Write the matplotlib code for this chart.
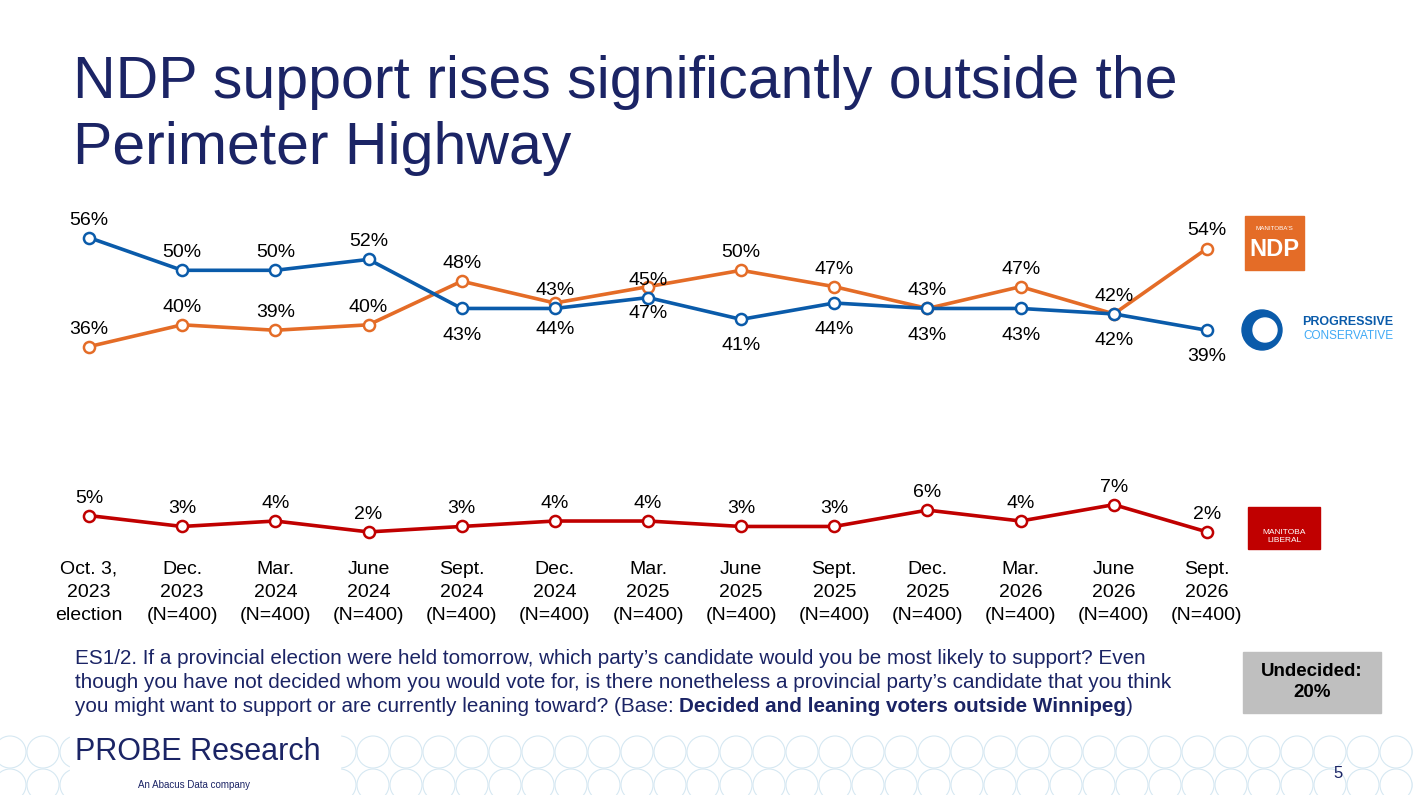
import matplotlib
matplotlib.use("Agg")
import matplotlib.pyplot as plt
from matplotlib.patches import Rectangle, Circle

categories = ["Oct. 3,\n2023\nelection", "Dec.\n2023\n(N=400)", "Mar.\n2024\n(N=400)", "June\n2024\n(N=400)",
              "Sept.\n2024\n(N=400)", "Dec.\n2024\n(N=400)", "Mar.\n2025\n(N=400)", "June\n2025\n(N=400)",
              "Sept.\n2025\n(N=400)", "Dec.\n2025\n(N=400)", "Mar.\n2026\n(N=400)", "June\n2026\n(N=400)",
              "Sept.\n2026\n(N=400)"]
pc = [56, 50, 50, 52, 43, 43, 45, 41, 44, 43, 43, 42, 39]
ndp = [36, 40, 39, 40, 48, 44, 47, 50, 47, 43, 47, 42, 54]
lib = [5, 3, 4, 2, 3, 4, 4, 3, 3, 6, 4, 7, 2]
pc_above = [1, 1, 1, 1, 0, 1, 1, 0, 0, 0, 0, 0, 0]
ndp_above = [1, 1, 1, 1, 1, 0, 0, 1, 1, 1, 1, 1, 1]

W, H = 1413, 795
fig = plt.figure(figsize=(W/100, H/100), dpi=100)
FF = "Liberation Sans"
navy = "#1B2465"
blue = "#0A5BAA"
orange = "#E46C27"
red = "#C00000"

bg = fig.add_axes([0, 0, 1, 1], zorder=-5)
bg.set_xlim(0, W); bg.set_ylim(H, 0); bg.axis("off")
for cx in range(10, W + 30, 33):
    for cy in (752, 785):
        bg.add_patch(Circle((cx, cy), 16, fill=False, ec="#D6E8F2", lw=0.8))
bg.add_patch(Rectangle((70, 725), 270, 70, color="white"))

ax = fig.add_axes([89/W, 1 - 545/H, (1207-89)/W, 345/H])
ax.set_xlim(0, 12)
ax.set_ylim(-0.4, 62.9)
ax.axis("off")
x = list(range(len(categories)))
for vals, col, above in ((ndp, orange, ndp_above), (pc, blue, pc_above), (lib, red, [1]*13)):
    ax.plot(x, vals, color=col, lw=2.6, marker="o", ms=8, mfc="white", mec=col, mew=1.8, clip_on=False)
    for xi, v, a in zip(x, vals, above):
        ax.annotate(f"{v}%", (xi, v), xytext=(0, 6.5 if a else -13), textcoords="offset points",
                    ha="center", va="bottom" if a else "top", fontsize=14, family=FF)
for xi, c in zip(x, categories):
    ax.text(xi, -3.3, c, ha="center", va="top", fontsize=14, family=FF, linespacing=1.45)

bg.text(73, 82, "NDP support rises significantly outside the", ha="left", va="center",
        fontsize=42.5, color=navy, family=FF)
bg.text(73, 149, "Perimeter Highway", ha="left", va="center", fontsize=42.5, color=navy, family=FF)

bg.add_patch(Rectangle((1245, 216), 59, 54, color=orange))
bg.text(1274, 228, "MANITOBA'S", color="white", fontsize=4.5, ha="center", va="center", family=FF)
bg.text(1274, 249, "NDP", color="white", fontsize=17, ha="center", va="center", weight="bold", family=FF)
bg.add_patch(Circle((1262, 330), 20, color=blue))
bg.add_patch(Circle((1265, 330), 12, color="white"))
bg.text(1393, 322, "PROGRESSIVE", color=blue, fontsize=9, ha="right", va="center", weight="bold", family=FF)
bg.text(1393, 336, "CONSERVATIVE", color="#3FA9F5", fontsize=8.5, ha="right", va="center", family=FF)
bg.add_patch(Rectangle((1248, 507), 72, 42, color=red))
bg.text(1284, 536, "MANITOBA\nLIBERAL", color="white", fontsize=6, ha="center", va="center", family=FF)

qs = 14.9
bg.text(75, 659, "ES1/2. If a provincial election were held tomorrow, which party\u2019s candidate would you be most likely to support? Even",
        ha="left", va="center", fontsize=qs, color=navy, family=FF)
bg.text(75, 683, "though you have not decided whom you would vote for, is there nonetheless a provincial party\u2019s candidate that you think",
        ha="left", va="center", fontsize=qs, color=navy, family=FF)
t1 = bg.text(75, 707, "you might want to support or are currently leaning toward? (Base: ", ha="left", va="center",
             fontsize=qs, color=navy, family=FF)
r = fig.canvas.get_renderer()
e = t1.get_window_extent(r)
x2 = e.x1
t2 = bg.text(x2, 707, "Decided and leaning voters outside Winnipeg", ha="left", va="center", fontsize=qs,
             color=navy, weight="bold", family=FF)
t2.set_transform(matplotlib.transforms.blended_transform_factory(matplotlib.transforms.IdentityTransform(), bg.transData))
e2 = t2.get_window_extent(r)
t3 = bg.text(e2.x1, 707, ")", ha="left", va="center", fontsize=qs, color=navy, family=FF)
t3.set_transform(matplotlib.transforms.blended_transform_factory(matplotlib.transforms.IdentityTransform(), bg.transData))

bg.add_patch(Rectangle((1243, 652), 138, 61, color="#BFBFBF"))
bg.text(1312, 682, "Undecided:\n20%", ha="center", va="center", fontsize=13.5, weight="bold", family=FF, linespacing=1.3)

bg.text(75, 752, "PROBE Research", ha="left", va="center", fontsize=22, color=navy, family=FF)
bg.text(138, 785, "An Abacus Data company", ha="left", va="center", fontsize=7, color=navy, family=FF)
bg.text(1338, 773, "5", ha="center", va="center", fontsize=12, color=navy, family=FF)

fig.savefig("out.png", dpi=100)
